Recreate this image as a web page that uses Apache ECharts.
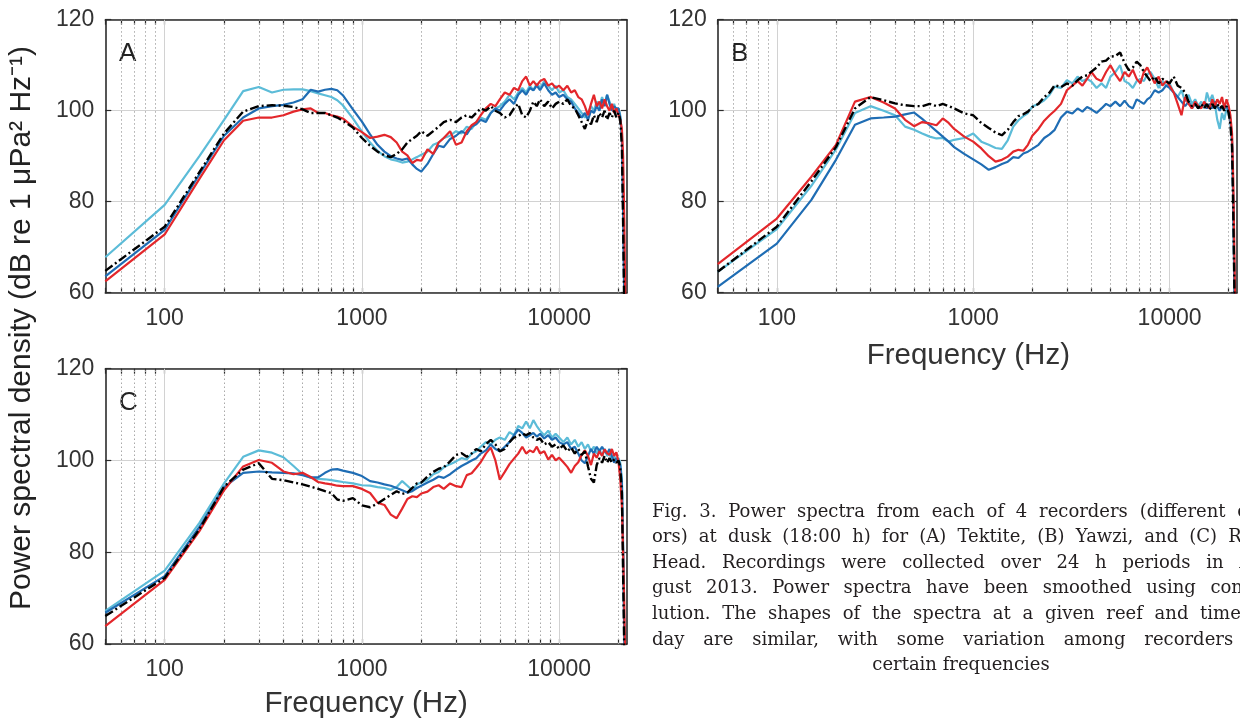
<!DOCTYPE html>
<html>
<head>
<meta charset="utf-8">
<script src="https://cdn.jsdelivr.net/npm/echarts@6/dist/echarts.min.js"></script>
<style>
html,body{margin:0;padding:0;background:#fff;}
#chart{width:1240px;height:720px;}
</style>
</head>
<body>
<div id="chart"></div>
<script>
// ---------------- DATA ----------------
const freqs = [50,100,150,200,250,300,350,400,450,500, 550,600,650,700,750,800,900,1000, 1100,1200,1300,1400,1500,1600,1700,1800,1900,2000, 2150,2300,2450,2600,2800,3000, 3200,3400,3600,3800,4000, 4250,4500,4750,5000, 5300,5600,5900,6200,6500,6800,7100,7400,7700,8000, 8400,8800,9200,9600,10000, 10500,11000,11500,12000,12500,13000,13500,14000,14500,15000,15500,16000,16500,17000,17500,18000,18500,19000,19500,20000, 20400,20800,21100,21400,21700,22050];

// Panel A (Tektite)
const A_lightBlue = [67.8,79.3,90,98,104.3,105.2,104,104.6,104.7,104.7, 104.3,103.8,103.4,103,102.3,101.2,98.3,95.4, 93,91.2,90,89.3,89,88.6,88.8,89.3,89.8,90.3, 91,92.5,93,94,94.5,95.5, 95,96.5,96,97.5,98.5, 98,99.5,100.5,101, 102,103.5,102.5,104,105,104,105.5,104.5,106,105, 106.5,105.5,104.5,105.5,104, 104.5,103,102.5,101.5,100.5,99.5,98.5,99.5,101,100,102,101,103,101.5,103.5,102,100.5,101.5,99.5,100.5, 99,95,80,58,45,40];
const A_darkBlue = [63.6,73.8,86,94.5,98.5,100.5,101,101.3,101.8,102.5, 104.6,104.2,104.6,104.8,104.5,103.4,100.3,97.6, 94.8,92.5,91,90,89.5,89.2,89.5,88.2,87.2,86.6, 88.3,90.5,92.3,92,93.8,94.5, 95.5,94.8,96.5,97,98, 97.5,99.5,100.5,100, 101.5,102.5,101.5,103.5,104.5,103.5,105,104.5,105.5,104.5, 106,104.5,103.5,104,103, 103.5,102.5,102,100.5,99.5,98.5,99.5,98,100,99.5,101,100,102.5,101,103.5,101.5,100,101,100.5,100.5, 98.5,94,78,57,45,40];
const A_red = [62.5,72.8,85,93.5,97.8,98.5,98.5,99,99.8,100.3, 100.5,99.5,99.5,99,98.7,98.3,96.5,95.3, 94,94.3,94.7,94.2,93,91,90.2,88.5,89.2,89, 91.5,90.5,93,94,95.5,92.5, 93,95.5,96.8,97.5,99, 100.5,101.5,101,102.5, 104,103.5,105,104.5,106.5,107.5,105.5,106.5,105.5,106.5, 107,105.5,106,105,105.5, 104.5,105.5,104,104.5,103,102.5,101,99,101.5,103.5,101,102,100.5,102.5,101,100,101.5,99.5,100.5,99, 98,96,90,75,55,40];
const A_black = [64.8,74.5,86.5,95,99.8,101,101.2,101.1,100.8,100.3, 99.5,99.5,99.5,99,98.5,97.8,96.3,94, 92.3,91,90.2,89.8,90.5,91.5,93,93.8,94.5,95.5, 94.5,95.5,96.5,97.5,98,97.5, 98.5,99,98.5,99.5,100.5, 100,101,100,99.5, 98.5,99,100.5,101.5,99,98.5,100,102,101,102.5, 101,102,100.5,101.5,102, 101.5,102.5,101,100.5,99,97.5,96,98,97,99,97.5,99.5,98.5,100,98,99.5,98.5,100,98.5,99.5, 98,92,75,55,45,40];

// Panel B (Yawzi)
const B_lightBlue = [64.6,74,83.5,91.5,99.5,101,100,99,96.5,95.8, 95,94.3,93.9,94,93.2,93.6,94,95, 93.2,92.5,91.8,91.6,93.5,96.5,97.9,98.8,99.5,100.9, 101.5,102.3,103.5,105.3,105,106.7, 106,107.5,106.5,107,106.4, 105,106,105,107.5, 108.5,110,106.5,106,105,106.5,107,106.5,108,108.5, 107,105,106.5,105.5,106, 104,103,104.5,102,103.5,101.5,102.5,101,102,100.5,104,102,103.5,101.5,98,96,99.5,98,100.5,99, 98,94,80,60,45,40];
const B_darkBlue = [61.3,70.8,80.4,89.2,96.9,98.3,98.5,98.7,99.2,99.6, 98.2,96.8,95.5,94.3,93.2,92,90.5,89.3, 88.2,87,87.6,88.3,88.8,89.8,89.6,90.6,91,91.6, 92.5,94,94.8,95.8,98.5,99.8, 99.4,100.5,99.8,100.8,100.3, 99.5,100.5,101.5,101, 102,101,102.2,101,100.5,102.5,102,101.5,102.5,103, 104.5,104,104.5,105.5,105, 104,103,102,101,102,100.5,101.5,100.5,101,101.5,100.5,101.5,100.5,102,101,100,101,100.5,101,100, 98,93,80,60,45,40];
const B_red = [66.3,76.3,85.5,92.5,102,103,101.8,100.5,98,96.6, 97.5,97.2,96.8,98.3,97.3,96,94.3,93.2, 91.7,90,88.8,89.2,89.9,91,91.4,91.2,92.5,94.5, 96,97.8,99,100,101.5,104.5, 105.5,106.5,105.5,107,108.5, 107,106.5,108.5,110, 108,106.5,108.5,107.5,109,107,106,108.5,109.5,108, 106,107.5,105.5,106.5,105.5, 104,101.5,99,103,101.5,100.5,102,101,100.5,102,101,100.5,102.5,101,102.5,101.5,103,100.5,102.5,101, 99,95,85,68,50,40];
const B_black = [64.6,74.5,84.5,92,100.5,103,102.3,101.6,101.2,101, 101,101.5,101,101.5,101,100.5,99.4,99, 97.3,96.2,95.2,94.6,95.8,97.5,98.8,99.2,99.8,100.8, 101.5,103,104,105.6,105.2,106, 105.5,106.7,107.5,107.8,108.6, 109.5,110.8,111,111.9, 112,112.8,110.5,108.9,109.5,110.8,110,108.5,107.5,106.5, 107.5,106,107,106.5,106, 107.5,105.5,105,104,102,101,101.5,100.5,101.5,100.5,101.5,100.2,101.5,100.5,101.5,100.5,101,100,101,99.5, 97,92,78,60,45,40];

// Panel C (Ram Head)
const C_lightBlue = [67.2,76,86.4,95,100.8,102.2,101.7,100.7,98.8,97, 96.2,96,95.9,95.7,95.5,95.3,95,94.6, 94.5,94.2,94,93.6,94.2,95.5,94.5,93.5,94.8,95.2, 95.8,97,97.5,98.5,99.2,99.8, 100.5,100.2,101.5,102,103, 104,103.5,104.5,105, 104.5,106.2,105.5,107.5,107,108.5,107,108.8,107.5,106.5, 105.5,106.5,105,105.8,105, 104,105,103.5,104.5,103,104,102.5,103.5,102,103,101.5,102.5,101,102.5,101,101.5,100,101,100,100.5, 99.5,96,82,62,45,40];
const C_darkBlue = [66.8,74.8,85.5,94.2,97.3,97.6,97.4,97.3,97.2,96.8, 96.3,96.3,97.3,98,98.1,97.8,97.3,96.6, 95.5,95.2,94.8,94.5,94,93.5,93,93.3,94,94.5, 95.2,95.8,96.5,96.2,97,98, 98.8,99.4,100,100.5,101.5, 102.2,103.5,102.5,102, 103,104,105.5,106.7,106,105,105.5,106,105.2,105.8, 104.8,105.5,104.5,105,104, 103.5,104,102.5,103,101.5,100,99.4,101,102.5,101.5,103,102,103,102,101.5,102.5,101,99.5,100.5,100, 99,95,80,60,45,40];
const C_red = [63.9,74,84.6,93.5,98.7,100.1,99.5,97.6,97,97.3, 96.4,95.3,95,94.8,94.5,94.4,94.4,93.8, 92.9,90.8,90.3,88.2,87.4,89.5,91.6,92.2,92,92.8, 93.2,94.2,94.6,93.8,95,94.4, 94.2,96.8,97.2,98.4,99.6, 101.5,102.8,100,95.8, 97.5,99.2,100.4,101.5,103,101.5,102.2,101.8,103,101.5, 102,100.2,101.2,100,100.6, 99.6,98.6,97.3,98.8,99.6,101.2,102.2,101,99,101.5,100.6,102,101,102.4,101.6,101.2,102.5,101,101.8,99.6, 96,90,80,68,52,40];
const C_black = [66.1,74.4,85,94.3,98,99.4,96,95.7,95.2,94.8, 94.3,93.8,93.3,92.9,91.5,91.2,91.8,90.2, 89.8,90.6,91.6,92.5,93.3,92.7,93,94,95,95.2, 96.5,97.5,98.2,98.5,99.8,101.2, 101.6,100.8,101.5,102.5,102, 103.5,104.5,103.5,102, 102.5,104,105,105.3,105.9,105.5,106,105,104.5,104.8, 103.5,104,103,103.5,102.5, 103.3,102,102.8,101.5,102.5,101.2,102,98.7,96,95.2,99,100.5,99.5,101,99.5,100.5,99.5,100.2,99.5,100, 98.5,93,75,58,45,40];

const panelLetters = ['A', 'B', 'C'];
const xTickLabels = [100, 1000, 10000];
const majorGridFreqs = [100, 1000, 10000];
const minorGridFreqs = [60,70,80,90,200,300,400,500,600,700,800,900,2000,3000,4000,5000,6000,7000,8000,9000,20000];
const xAxisTitle = 'Frequency (Hz)';
const yAxisTitle = 'Power spectral density (dB re 1 \u03bcPa\u00b2 Hz\u207b\u00b9)';
const captionLines = [
  'Fig. 3. Power spectra from each of 4 recorders (different col-',
  'ors) at dusk (18:00 h) for (A) Tektite, (B) Yawzi, and (C) Ram',
  'Head. Recordings were collected over 24 h periods in Au-',
  'gust 2013. Power spectra have been smoothed using convo-',
  'lution. The shapes of the spectra at a given reef and time of',
  'day are similar, with some variation among recorders at',
  'certain frequencies'
];

// ---------------- STYLE / LAYOUT ----------------
const COL = {light:'#5cbcd8', dark:'#1f6db4', red:'#e3272b', black:'#000000'};
const SANS = '"Liberation Sans", Arial, sans-serif';
const grids = [
  {left:105.3, top:19.7, width:521.6, height:273},
  {left:717.7, top:19.7, width:521.9, height:273},
  {left:105.3, top:368.7, width:521.6, height:276}
];
const panelData = [
  [A_lightBlue, A_darkBlue, A_red, A_black],
  [B_lightBlue, B_darkBlue, B_red, B_black],
  [C_lightBlue, C_darkBlue, C_red, C_black]
];

const chart = echarts.init(document.getElementById('chart'), null, {renderer:'canvas'});

const tickValues = [50].concat(minorGridFreqs, majorGridFreqs).sort((a, b) => a - b);
const xAxes = [], yAxes = [], series = [];
const frameColor = '#2b2b2b';
grids.forEach((g, k) => {
  const showTitle = (k !== 0);
  const tickCommon = {show:true, inside:true, length:5, customValues:tickValues,
    lineStyle:{color:frameColor, width:1.2}};
  xAxes.push({
    type:'log', logBase:10, gridIndex:k, min:50, max:22050, position:'bottom',
    name: showTitle ? xAxisTitle : '', nameLocation:'middle', nameGap: k===1 ? 48 : 45,
    nameTextStyle:{fontFamily:SANS, fontSize:29.5, color:'#333', padding: k===1 ? [0,18,0,0] : 0},
    axisLine:{show:true, onZero:false, lineStyle:{color:frameColor, width:1.6}},
    axisTick:tickCommon,
    axisLabel:{show:true, margin:14, fontFamily:SANS, fontSize:23, color:'#333',
      formatter: v => { const r = Math.round(v); return xTickLabels.indexOf(r) >= 0 ? String(r) : ''; }},
    splitLine:{show:false}
  });
  xAxes.push({
    type:'log', logBase:10, gridIndex:k, min:50, max:22050, position:'top',
    axisLine:{show:true, onZero:false, lineStyle:{color:frameColor, width:1.6}},
    axisTick:tickCommon,
    axisLabel:{show:false}, splitLine:{show:false}
  });
  yAxes.push({
    type:'value', gridIndex:k, min:60, max:120, interval:20, position:'left',
    axisLine:{show:true, onZero:false, lineStyle:{color:frameColor, width:1.6}},
    axisTick:{show:true, inside:true, length:6, lineStyle:{color:frameColor, width:1.2}},
    axisLabel:{show:true, margin:11, fontFamily:SANS, fontSize:23, color:'#333'},
    splitLine:{show:true, lineStyle:{color:'#d2d2d2', width:1}}
  });
  yAxes.push({
    type:'value', gridIndex:k, min:60, max:120, interval:20, position:'right',
    axisLine:{show:true, onZero:false, lineStyle:{color:frameColor, width:1.6}},
    axisTick:{show:true, inside:true, length:6, lineStyle:{color:frameColor, width:1.2}},
    axisLabel:{show:false}, splitLine:{show:false}
  });
  const [lb, db, rd, bk] = panelData[k];
  const mk = vals => freqs.map((f, i) => [f, vals[i]]);
  const base = {type:'line', xAxisIndex:2*k, yAxisIndex:2*k, symbol:'none', showSymbol:false,
    animation:false, clip:true, silent:true};
  series.push(Object.assign({}, base, {name:'rec1', data:mk(lb), z:3,
    lineStyle:{color:COL.light, width:2.2}, itemStyle:{color:COL.light},
    markLine:{silent:true, z:1, symbol:['none','none'], animation:false, label:{show:false},
      lineStyle:{color:'#a9a9a9', type:[1.5,2.5], width:1},
      data: minorGridFreqs.map(f => ({xAxis:f}))}}));
  series.push(Object.assign({}, base, {name:'rec2', data:mk(db), z:4,
    lineStyle:{color:COL.dark, width:2.2}, itemStyle:{color:COL.dark},
    markLine:{silent:true, z:1, symbol:['none','none'], animation:false, label:{show:false},
      lineStyle:{color:'#d2d2d2', type:'solid', width:1},
      data: majorGridFreqs.map(f => ({xAxis:f}))}}));
  series.push(Object.assign({}, base, {name:'rec3', data:mk(rd), z:5,
    lineStyle:{color:COL.red, width:2.2}, itemStyle:{color:COL.red}}));
  series.push(Object.assign({}, base, {name:'rec4', data:mk(bk), z:6,
    lineStyle:{color:COL.black, width:2.4, type:[9,3,2,3]}, itemStyle:{color:COL.black}}));
});

// ---------------- GRAPHIC TEXTS ----------------
const graphics = [];
const letterPos = [[119, 54], [731, 54], [119, 403]];
panelLetters.forEach((t, i) => {
  graphics.push({type:'text', x:letterPos[i][0], y:letterPos[i][1], silent:true,
    style:{text:t, font:'26px ' + SANS, fill:'#222', textVerticalAlign:'middle', verticalAlign:'middle'}});
});
graphics.push({type:'text', x:22, y:328, rotation:Math.PI/2, silent:true,
  style:{text:yAxisTitle, font:'30px ' + SANS, fill:'#222', textAlign:'center', align:'center',
    textVerticalAlign:'middle', verticalAlign:'middle'}});

// caption (justified)
const capFont = '18px "DejaVu Serif", serif';
const cvs = document.createElement('canvas').getContext('2d');
cvs.font = capFont;
const capX = 652, capW = 618, capY0 = 512, capGap = 25.6;
captionLines.forEach((line, li) => {
  const y = capY0 + li * capGap;
  if (li === captionLines.length - 1) {
    graphics.push({type:'text', x:capX + capW/2, y:y, silent:true,
      style:{text:line, font:capFont, fill:'#231f20', textAlign:'center', align:'center',
        textVerticalAlign:'middle', verticalAlign:'middle'}});
    return;
  }
  const words = line.split(' ');
  const widths = words.map(w => cvs.measureText(w).width);
  const total = widths.reduce((a, b) => a + b, 0);
  const gap = (capW - total) / (words.length - 1);
  let x = capX;
  words.forEach((w, wi) => {
    graphics.push({type:'text', x:x, y:y, silent:true,
      style:{text:w, font:capFont, fill:'#231f20', textVerticalAlign:'middle', verticalAlign:'middle'}});
    x += widths[wi] + gap;
  });
});

chart.setOption({
  animation:false,
  backgroundColor:'#ffffff',
  grid: grids.map(g => Object.assign({containLabel:false, show:false}, g)),
  xAxis: xAxes,
  yAxis: yAxes,
  series: series,
  graphic: graphics
});
</script>
</body>
</html>
